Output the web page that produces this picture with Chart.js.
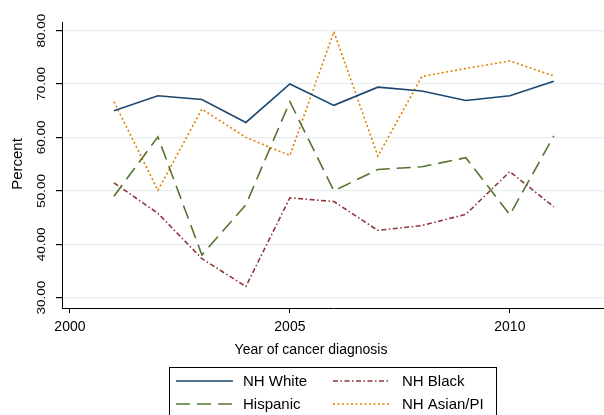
<!DOCTYPE html>
<html>
<head>
<meta charset="utf-8">
<script src="https://cdn.jsdelivr.net/npm/chart.js@4"></script>
<style>
  html, body { margin: 0; padding: 0; background: #ffffff; }
  #wrap { width: 604px; height: 415px; position: relative; }
</style>
</head>
<body>
<div id="wrap"><canvas id="c" width="604" height="415"></canvas></div>
<script>
// Share of patients (percent) by year of cancer diagnosis and race/ethnicity
const years = [2001, 2002, 2003, 2004, 2005, 2006, 2007, 2008, 2009, 2010, 2011];
const nhWhite = [65.0, 67.8, 67.1, 62.8, 70.0, 66.0, 69.4, 68.7, 66.9, 67.8, 70.5];
const nhBlack = [51.5, 45.8, 37.3, 32.1, 48.7, 48.0, 42.6, 43.5, 45.6, 53.6, 47.0];
const hispanic = [49.0, 60.1, 38.0, 47.4, 66.7, 50.0, 54.0, 54.5, 56.2, 45.5, 60.3];
const nhAsianPI = [66.7, 50.1, 65.3, 60.0, 56.6, 79.8, 56.5, 71.4, 72.9, 74.3, 71.5];

const seriesNames = ['NH White', 'NH Black', 'Hispanic', 'NH Asian/PI'];
const yTicks = [30, 40, 50, 60, 70, 80];
const xTicks = [2000, 2005, 2010];

const FONT = '"Liberation Sans", Arial, Helvetica, sans-serif';

const styles = [
  { color: '#1a476f', dash: [] },
  { color: '#90353b', dash: [5, 2.5, 1.5, 2.5] },
  { color: '#55752f', dash: [14, 7] },
  { color: '#e37e00', dash: [2, 2.5] }
];

const seriesValues = [nhWhite, nhBlack, hispanic, nhAsianPI];

const datasets = seriesNames.map((name, i) => ({
  label: name,
  data: years.map((yr, j) => ({ x: yr, y: seriesValues[i][j] })),
  borderColor: styles[i].color,
  borderDash: styles[i].dash,
  borderWidth: 1.6,
  pointRadius: 0,
  tension: 0,
  fill: false
}));

// Rotated y tick labels, axis titles and the boxed two-column legend
const decorations = {
  id: 'decorations',
  afterDraw(chart) {
    const ctx = chart.ctx;
    const ys = chart.scales.y;
    ctx.save();
    ctx.fillStyle = '#000';

    // y tick labels, reading upward (slightly condensed glyphs)
    ctx.font = '13.5px ' + FONT;
    ctx.textAlign = 'center';
    ctx.textBaseline = 'middle';
    yTicks.forEach(v => {
      const py = ys.getPixelForValue(v);
      ctx.save();
      ctx.translate(42, py);
      ctx.rotate(-Math.PI / 2);
      ctx.scale(1, 0.82);
      ctx.fillText(v.toFixed(2), 0, 0);
      ctx.restore();
    });

    // y axis title
    ctx.font = '15px ' + FONT;
    ctx.save();
    ctx.translate(18, 164);
    ctx.rotate(-Math.PI / 2);
    ctx.fillText('Percent', 0, 0);
    ctx.restore();

    // x axis title
    ctx.font = '14px ' + FONT;
    ctx.fillText('Year of cancer diagnosis', 311, 350);

    // legend box
    ctx.strokeStyle = '#000';
    ctx.lineWidth = 1;
    ctx.strokeRect(169.5, 367.5, 327, 60);

    const slots = [
      { x0: 176, x1: 233, tx: 243, y: 381 },
      { x0: 333, x1: 390, tx: 402, y: 381 },
      { x0: 176, x1: 233, tx: 243, y: 404 },
      { x0: 333, x1: 390, tx: 402, y: 404 }
    ];
    ctx.font = '15px ' + FONT;
    ctx.textAlign = 'left';
    chart.data.datasets.forEach((ds, i) => {
      const s = slots[i];
      ctx.save();
      ctx.strokeStyle = ds.borderColor;
      ctx.lineWidth = ds.borderWidth;
      ctx.setLineDash(ds.borderDash);
      ctx.beginPath();
      ctx.moveTo(s.x0, s.y);
      ctx.lineTo(s.x1, s.y);
      ctx.stroke();
      ctx.restore();
      ctx.fillStyle = '#000';
      ctx.fillText(ds.label, s.tx, s.y + 1);
    });
    ctx.restore();
  }
};

new Chart(document.getElementById('c'), {
  type: 'line',
  data: { datasets },
  options: {
    responsive: false,
    animation: false,
    events: [],
    layout: { padding: { top: 22, right: 0, left: 0, bottom: 0 } },
    plugins: { legend: { display: false }, tooltip: { enabled: false } },
    scales: {
      x: {
        type: 'linear',
        min: 1999.82,
        max: 2012.14,
        afterBuildTicks: s => { s.ticks = xTicks.map(v => ({ value: v })); },
        afterFit: s => { s.height = 107; },
        grid: { drawOnChartArea: false, tickColor: '#000', tickLength: 5, lineWidth: 1 },
        border: { color: '#000', width: 1 },
        ticks: {
          color: '#000',
          font: { family: FONT, size: 14 },
          padding: 6,
          maxRotation: 0,
          callback: v => String(v)
        }
      },
      y: {
        min: 28.07,
        max: 81.6,
        afterBuildTicks: s => { s.ticks = yTicks.map(v => ({ value: v })); },
        afterFit: s => { s.width = 62; },
        grid: { color: '#e6eef0', tickColor: '#000', tickLength: 6, lineWidth: 1.2 },
        border: { color: '#000', width: 1 },
        ticks: { display: false }
      }
    }
  },
  plugins: [decorations]
});
</script>
</body>
</html>
